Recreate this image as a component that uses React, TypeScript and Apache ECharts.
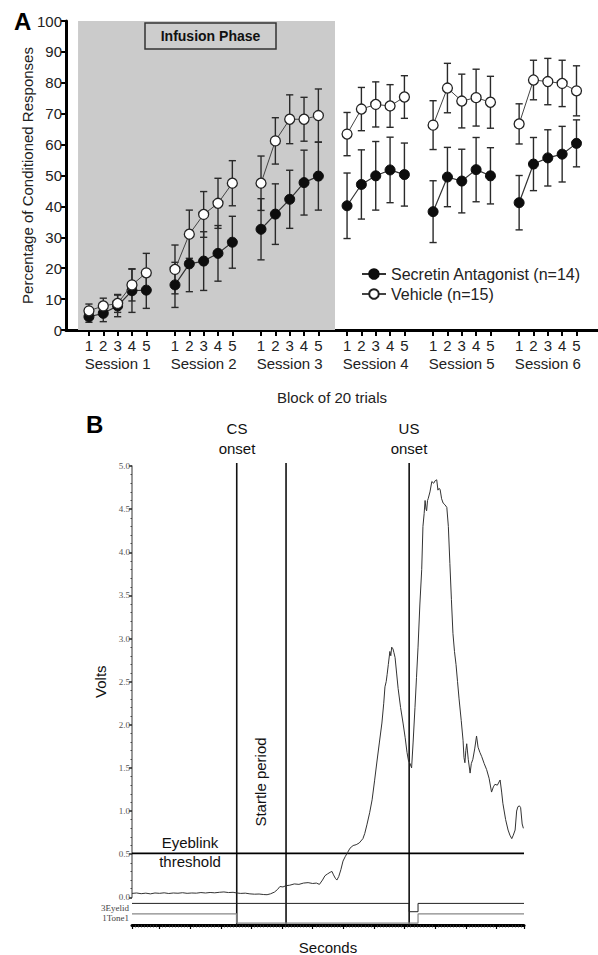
import React, { useEffect, useRef } from 'react';
import * as echarts from 'echarts';

// ---------- Panel A data ----------
const sessionNames = ['Session 1', 'Session 2', 'Session 3', 'Session 4', 'Session 5', 'Session 6'];
const blockLabels = ['1', '2', '3', '4', '5'];
const antagonistName = 'Secretin Antagonist (n=14)';
const vehicleName = 'Vehicle (n=15)';
const antagonistMean = [
  4.3, 5.4, 7.8, 12.7, 12.9,
  14.6, 21.4, 22.3, 24.8, 28.4,
  32.6, 37.5, 42.3, 47.7, 49.8,
  40.2, 47.1, 49.9, 51.8, 50.3,
  38.3, 49.5, 48.2, 51.9, 49.9,
  41.2, 53.7, 55.7, 56.9, 60.4,
];
const antagonistSem = [
  1.8, 2.7, 3.5, 7.0, 5.9,
  7.3, 9.0, 9.5, 9.0, 8.4,
  9.9, 9.8, 9.4, 10.5, 11.0,
  10.6, 11.2, 11.1, 10.6, 10.2,
  10.0, 9.6, 10.3, 10.4, 9.1,
  8.8, 8.6, 9.1, 9.0, 7.6,
];
const vehicleMean = [
  6.2, 7.8, 8.6, 14.6, 18.5,
  19.6, 31.0, 37.4, 41.0, 47.5,
  47.5, 61.2, 68.2, 68.2, 69.4,
  63.4, 71.5, 73.0, 72.5, 75.4,
  66.3, 78.3, 74.1, 75.2, 73.7,
  66.7, 80.9, 80.4, 79.8, 77.4,
];
const vehicleSem = [
  2.2, 2.5, 2.9, 5.2, 6.3,
  7.9, 7.8, 7.4, 8.1, 7.3,
  8.8, 7.5, 7.9, 7.1, 8.6,
  7.0, 7.0, 7.3, 6.9, 6.9,
  7.9, 8.0, 8.7, 9.2, 8.4,
  6.5, 6.4, 7.5, 7.5, 8.1,
];
const infusionRange = [-0.76, 17.16]; // x-range of the infusion phase shading

// ---------- Panel B data ----------
const timeMin = -90;
const timeMax = 1190;
const csOnset = 252;
const startleEnd = 413;
const usOnset = 815;
const usOffset = 844;
const thresholdVolts = 0.51;
const eyelidTimes = [timeMin, usOnset, usOnset, usOffset, usOffset, timeMax];
const eyelidLevels = [0.78, 0.78, 0.48, 0.48, 0.78, 0.78];
const toneTimes = [timeMin, csOnset, csOnset, usOffset, usOffset, timeMax];
const toneLevels = [0.4, 0.4, 0.07, 0.07, 0.4, 0.4];
const traceSamples: [number, number][] = [
  [-90, 0.045], [-75, 0.05], [-60, 0.042], [-45, 0.048], [-30, 0.04], [-15, 0.05], [0, 0.046], [15, 0.052],
  [30, 0.044], [45, 0.05], [60, 0.047], [75, 0.053], [90, 0.046], [105, 0.05], [120, 0.048], [135, 0.055],
  [150, 0.05], [165, 0.056], [180, 0.052], [195, 0.058], [210, 0.062], [225, 0.055], [240, 0.058], [252, 0.05],
  [265, 0.045], [280, 0.048], [295, 0.04], [310, 0.036], [325, 0.038], [340, 0.032], [351, 0.03], [362, 0.04],
  [375, 0.06], [385, 0.09], [393, 0.125], [403, 0.12], [413, 0.135], [425, 0.14], [440, 0.155], [455, 0.15],
  [470, 0.165], [485, 0.17], [500, 0.16], [512, 0.165], [522, 0.15], [532, 0.2], [540, 0.25], [548, 0.27],
  [557, 0.29], [563, 0.3], [568, 0.26], [574, 0.22], [579, 0.2], [585, 0.24], [592, 0.32], [599, 0.42],
  [606, 0.47], [614, 0.52], [622, 0.57], [632, 0.6], [642, 0.61], [652, 0.63], [664, 0.68], [670, 0.74],
  [677, 0.84], [686, 0.98], [694, 1.13], [702, 1.35], [710, 1.58], [718, 1.8], [726, 2.02], [732, 2.25],
  [736, 2.44], [740, 2.5], [743, 2.58], [747, 2.7], [752, 2.85], [755, 2.8], [758, 2.9], [762, 2.88],
  [765, 2.84], [769, 2.78], [774, 2.6], [779, 2.42], [787, 2.2], [795, 2.02], [802, 1.85], [808, 1.68],
  [813, 1.58], [818, 1.55], [823, 1.5], [828, 1.8], [834, 2.2], [839, 2.55], [844, 2.9], [850, 3.4],
  [856, 3.8], [860, 4.3], [864, 4.45], [867, 4.6], [870, 4.5], [872, 4.48], [875, 4.6], [877, 4.62],
  [883, 4.7], [889, 4.82], [895, 4.8], [900, 4.83], [905, 4.84], [909, 4.72], [912, 4.74], [916, 4.73],
  [921, 4.62], [926, 4.57], [932, 4.55], [938, 4.52], [943, 4.3], [948, 3.87], [953, 3.45], [958, 3.06],
  [963, 2.85], [968, 2.7], [973, 2.5], [978, 2.3], [985, 2.05], [991, 1.82], [994, 1.62], [997, 1.56],
  [1000, 1.7], [1003, 1.78], [1008, 1.6], [1014, 1.44], [1018, 1.55], [1023, 1.6], [1029, 1.72], [1035, 1.87],
  [1040, 1.74], [1046, 1.68], [1052, 1.63], [1060, 1.55], [1068, 1.48], [1076, 1.38], [1084, 1.22], [1090, 1.28],
  [1095, 1.31], [1103, 1.3], [1112, 1.36], [1117, 1.22], [1121, 1.09], [1130, 0.9], [1138, 0.78], [1144, 0.72],
  [1150, 0.68], [1155, 0.72], [1161, 0.78], [1166, 1.0], [1170, 1.05], [1175, 1.06], [1179, 1.04], [1184, 0.85],
  [1188, 0.8],
];

const SANS = "'Liberation Sans', Arial, Helvetica, sans-serif";
const SERIF = "'Liberation Serif', 'Times New Roman', serif";

const SLOT = 6; // 5 blocks + 1 gap per session
const pos = (s: number, b: number) => s * SLOT + b;

function buildLine(means: number[]) {
  const out: any[] = [];
  sessionNames.forEach((_, s) => {
    blockLabels.forEach((__, b) => out.push([pos(s, b), means[s * 5 + b]]));
    if (s < sessionNames.length - 1) out.push([pos(s, 5), '-']);
  });
  return out;
}
function buildErr(means: number[], sems: number[]) {
  const out: any[] = [];
  sessionNames.forEach((_, s) => {
    blockLabels.forEach((__, b) => out.push([pos(s, b), means[s * 5 + b], sems[s * 5 + b]]));
  });
  return out;
}

const blockPositions: number[] = [];
sessionNames.forEach((_, s) => blockLabels.forEach((__, b) => blockPositions.push(pos(s, b))));
const sessionCenters = sessionNames.map((_, s) => pos(s, 2));

function errRender(params: any, api: any) {
  const x = api.value(0);
  const m = api.value(1);
  const e = api.value(2);
  const top = api.coord([x, m + e]);
  const bot = api.coord([x, m - e]);
  const w = 3.6;
  const st = { stroke: '#2a2a2a', lineWidth: 1.4 };
  return {
    type: 'group',
    children: [
      { type: 'line', shape: { x1: top[0], y1: top[1], x2: bot[0], y2: bot[1] }, style: st },
      { type: 'line', shape: { x1: top[0] - w, y1: top[1], x2: top[0] + w, y2: top[1] }, style: st },
      { type: 'line', shape: { x1: bot[0] - w, y1: bot[1], x2: bot[0] + w, y2: bot[1] }, style: st },
    ],
  };
}

export default function App() {
  const ref = useRef<HTMLDivElement>(null);
  useEffect(() => {
    if (!ref.current) return;
    const chart = echarts.init(ref.current, null, { renderer: 'svg' });
    const hidden = { show: false };
    const option: any = {
      animation: false,
      backgroundColor: '#ffffff',
      grid: [
        { left: 66, top: 21, width: 532, height: 309, outerBoundsMode: 'none', containLabel: false },
        { left: 132, top: 463, width: 392, height: 462, outerBoundsMode: 'none', containLabel: false },
        { left: 132, top: 466, width: 392, height: 431.3, outerBoundsMode: 'none', containLabel: false },
        { left: 132, top: 897.3, width: 392, height: 27.7, outerBoundsMode: 'none', containLabel: false },
      ],
      legend: {
        data: [antagonistName, vehicleName],
        orient: 'vertical',
        left: 356,
        top: 260,
        itemWidth: 24,
        itemHeight: 12,
        itemGap: 2,
        textStyle: { fontFamily: SANS, fontSize: 16, color: '#222', lineHeight: 18 },
      },
      xAxis: [
        {
          type: 'value', gridIndex: 0, min: -1.6, max: 35.5, position: 'bottom',
          axisLine: { show: true, onZero: false, lineStyle: { color: '#000', width: 3 } },
          axisTick: { show: true, customValues: blockPositions, length: 6, lineStyle: { color: '#000', width: 2 } },
          axisLabel: {
            customValues: blockPositions, margin: 8, fontFamily: SANS, fontSize: 15, color: '#222',
            formatter: (v: number) => blockLabels[Math.round(v) % SLOT] ?? '',
          },
          splitLine: { show: false },
        },
        {
          type: 'value', gridIndex: 0, min: -1.6, max: 35.5, position: 'bottom', offset: 17,
          axisLine: { show: false, onZero: false }, axisTick: { show: false },
          axisLabel: {
            customValues: sessionCenters, margin: 9, fontFamily: SANS, fontSize: 15, color: '#222',
            formatter: (v: number) => sessionNames[Math.round((v - 2) / SLOT)] ?? '',
          },
          splitLine: { show: false },
          name: 'Block of 20 trials', nameLocation: 'middle', nameGap: 43,
          nameTextStyle: { fontFamily: SANS, fontSize: 15, color: '#222' },
        },
        { type: 'value', gridIndex: 1, min: timeMin, max: timeMax, ...hidden },
        { type: 'value', gridIndex: 2, min: timeMin, max: timeMax, ...hidden },
        {
          type: 'value', gridIndex: 3, min: timeMin, max: timeMax, splitNumber: 12,
          axisLine: { show: true, onZero: false, lineStyle: { color: '#000', width: 3 } },
          axisTick: { show: true, length: 4, lineStyle: { color: '#000', width: 1.2 } },
          minorTick: { show: true, splitNumber: 10, length: 2.5, lineStyle: { color: '#333', width: 0.8 } },
          axisLabel: { show: false },
          splitLine: { show: false }, minorSplitLine: { show: false },
          name: 'Seconds', nameLocation: 'middle', nameGap: 15,
          nameTextStyle: { fontFamily: SANS, fontSize: 15, color: '#111' },
        },
      ],
      yAxis: [
        {
          type: 'value', gridIndex: 0, min: 0, max: 100, interval: 10,
          axisLine: { show: true, onZero: false, lineStyle: { color: '#000', width: 3 } },
          axisTick: { show: true, length: 5, lineStyle: { color: '#000', width: 2 } },
          axisLabel: { margin: 4, fontFamily: SANS, fontSize: 15, color: '#222' },
          splitLine: { show: false },
          name: 'Percentage of Conditioned Responses', nameLocation: 'middle', nameGap: 31,
          nameMoveOverlap: false,
          nameTextStyle: { fontFamily: SANS, fontSize: 15, color: '#222' },
        },
        { type: 'value', gridIndex: 1, min: 0, max: 1, ...hidden },
        {
          type: 'value', gridIndex: 2, min: 0, max: 5, interval: 0.5,
          axisLine: { show: true, onZero: false, lineStyle: { color: '#777', width: 1.5 } },
          axisTick: { show: true, length: 3, lineStyle: { color: '#222', width: 1.5 } },
          minorTick: { show: true, splitNumber: 5, length: 1.5, lineStyle: { color: '#444', width: 1 } },
          axisLabel: { margin: 2, fontFamily: SERIF, fontSize: 9, color: '#555', formatter: (v: number) => v.toFixed(1) },
          splitLine: { show: false }, minorSplitLine: { show: false },
          name: 'Volts', nameLocation: 'middle', nameGap: 23,
          nameTextStyle: { fontFamily: SANS, fontSize: 15, color: '#111' },
        },
        { type: 'value', gridIndex: 3, min: 0, max: 1, ...hidden },
      ],
      series: [
        {
          type: 'line', name: 'infusion', xAxisIndex: 0, yAxisIndex: 0, data: [], z: 0, silent: true,
          markArea: {
            silent: true,
            label: { show: false },
            itemStyle: { color: '#cbcbcb' },
            data: [[{ coord: [infusionRange[0], 0] }, { coord: [infusionRange[1], 100] }]],
          },
        },
        {
          type: 'custom', name: 'antagonistErr', xAxisIndex: 0, yAxisIndex: 0, z: 1, silent: true,
          renderItem: errRender, encode: { x: 0, y: 1 }, data: buildErr(antagonistMean, antagonistSem),
        },
        {
          type: 'custom', name: 'vehicleErr', xAxisIndex: 0, yAxisIndex: 0, z: 1, silent: true,
          renderItem: errRender, encode: { x: 0, y: 1 }, data: buildErr(vehicleMean, vehicleSem),
        },
        {
          type: 'line', name: antagonistName, xAxisIndex: 0, yAxisIndex: 0, z: 3,
          data: buildLine(antagonistMean), connectNulls: false,
          symbol: 'circle', symbolSize: 10,
          itemStyle: { color: '#0d0d0d', borderColor: '#0d0d0d', borderWidth: 1 },
          lineStyle: { color: '#333', width: 1.2 },
        },
        {
          type: 'line', name: vehicleName, xAxisIndex: 0, yAxisIndex: 0, z: 4,
          data: buildLine(vehicleMean), connectNulls: false,
          symbol: 'circle', symbolSize: 10,
          itemStyle: { color: '#ffffff', borderColor: '#222', borderWidth: 1.3 },
          lineStyle: { color: '#444', width: 1 },
        },
        {
          type: 'line', name: 'CS onset', xAxisIndex: 2, yAxisIndex: 1, symbol: 'none', silent: true,
          data: [[csOnset, 0], [csOnset, 1]], lineStyle: { color: '#111', width: 1.6 },
        },
        {
          type: 'line', name: 'Startle end', xAxisIndex: 2, yAxisIndex: 1, symbol: 'none', silent: true,
          data: [[startleEnd, 0], [startleEnd, 1]], lineStyle: { color: '#111', width: 1.6 },
        },
        {
          type: 'line', name: 'US onset', xAxisIndex: 2, yAxisIndex: 1, symbol: 'none', silent: true,
          data: [[usOnset, 0], [usOnset, 1]], lineStyle: { color: '#111', width: 1.6 },
        },
        {
          type: 'line', name: 'Eyeblink threshold', xAxisIndex: 3, yAxisIndex: 2, symbol: 'none', silent: true,
          data: [[timeMin, thresholdVolts], [timeMax, thresholdVolts]], lineStyle: { color: '#000', width: 1.8 },
        },
        {
          type: 'line', name: 'Eyelid trace', xAxisIndex: 3, yAxisIndex: 2, symbol: 'none', silent: true,
          data: traceSamples, lineStyle: { color: '#333', width: 1 },
        },
        {
          type: 'line', name: '3Eyelid', xAxisIndex: 4, yAxisIndex: 3, symbol: 'none', silent: true,
          data: eyelidTimes.map((t, i) => [t, eyelidLevels[i]]), lineStyle: { color: '#222', width: 1 },
        },
        {
          type: 'line', name: '1Tone1', xAxisIndex: 4, yAxisIndex: 3, symbol: 'none', silent: true,
          data: toneTimes.map((t, i) => [t, toneLevels[i]]), lineStyle: { color: '#888', width: 1.2 },
        },
      ],
      graphic: [
        { type: 'text', x: 14, y: 21, style: { text: 'A', font: `bold 24px ${SANS}`, fill: '#000', textVerticalAlign: 'middle' } },
        { type: 'text', x: 86, y: 424, style: { text: 'B', font: `bold 24px ${SANS}`, fill: '#000', textVerticalAlign: 'middle' } },
        {
          type: 'rect', shape: { x: 145, y: 23, width: 131, height: 26 },
          style: { fill: '#cdcdcd', stroke: '#333', lineWidth: 1.5 }, z: 10,
        },
        {
          type: 'text', x: 210.5, y: 36, z: 11,
          style: { text: 'Infusion Phase', font: `bold 14px ${SANS}`, fill: '#111', textAlign: 'center', textVerticalAlign: 'middle' },
        },
        {
          type: 'text', x: 237, y: 438,
          style: { text: 'CS\nonset', font: `15px ${SANS}`, lineHeight: 20, fill: '#111', textAlign: 'center', textVerticalAlign: 'middle' },
        },
        {
          type: 'text', x: 409, y: 438,
          style: { text: 'US\nonset', font: `15px ${SANS}`, lineHeight: 20, fill: '#111', textAlign: 'center', textVerticalAlign: 'middle' },
        },
        {
          type: 'text', x: 190, y: 852,
          style: { text: 'Eyeblink\nthreshold', font: `15px ${SANS}`, lineHeight: 19, fill: '#111', textAlign: 'center', textVerticalAlign: 'middle' },
        },
        {
          type: 'text', x: 260, y: 782, rotation: Math.PI / 2,
          style: { text: 'Startle period', font: `15px ${SANS}`, fill: '#111', textAlign: 'center', textVerticalAlign: 'middle' },
        },
        {
          type: 'text', x: 129, y: 908,
          style: { text: '3Eyelid', font: `9px ${SERIF}`, fill: '#444', textAlign: 'right', textVerticalAlign: 'middle' },
        },
        {
          type: 'text', x: 129, y: 918,
          style: { text: '1Tone1', font: `9px ${SERIF}`, fill: '#444', textAlign: 'right', textVerticalAlign: 'middle' },
        },
      ],
    };
    chart.setOption(option);
    return () => chart.dispose();
  }, []);
  return (
    <div
      ref={ref}
      style={{ position: 'absolute', left: 0, top: 0, width: 598, height: 955, background: '#fff' }}
    />
  );
}
